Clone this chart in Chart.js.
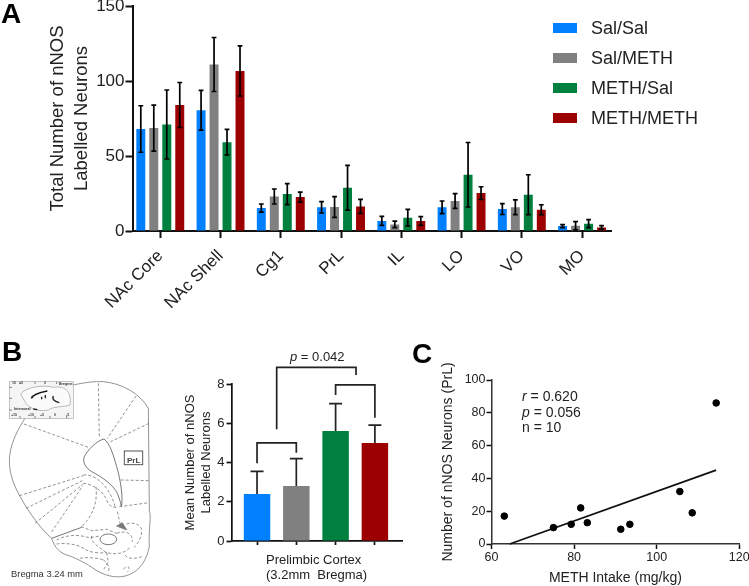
<!DOCTYPE html>
<html><head><meta charset="utf-8">
<script src="https://cdn.jsdelivr.net/npm/chart.js@4"></script>
<style>
html,body{margin:0;padding:0;background:#fff;overflow:hidden;width:749px;height:586px}
body{position:relative;font-family:"Liberation Sans",Arial,sans-serif;color:#222}
canvas{position:absolute}
.box{position:absolute}
.t{position:absolute;white-space:pre;line-height:1}
.panel{font-weight:bold;font-size:28px;color:#000}
.sw{position:absolute;width:24px;height:10px}
</style></head><body>

<div class="box" style="left:0;top:-14px;width:640px;height:344px"><canvas id="a"></canvas></div>
<div class="box" style="left:170px;top:340px;width:250px;height:246px"><canvas id="b"></canvas></div>
<div class="box" style="left:430px;top:340px;width:340px;height:246px"><canvas id="c"></canvas></div>

<svg class="box" style="left:0;top:330px" width="180" height="256" viewBox="0 0 540 768" fill="none" stroke="#777" stroke-width="2.4">
  <path d="M220 165C250 158 285 153 310 155C365 160 420 190 445 235L448 545C455 555 445 600 448 650C440 690 420 722 385 735C360 745 325 742 290 722C260 700 220 680 200 675C180 668 165 655 155 625C115 590 75 530 50 480C30 440 25 400 30 370C35 335 55 295 75 265"/>
  <path d="M312 327C290 332 262 360 252 382C248 398 258 415 275 425C305 440 340 465 352 490C358 505 362 518 364 530C370 505 362 450 350 410C340 375 330 340 312 327Z" stroke="#555"/>
  <g stroke-dasharray="9 6">
    <path d="M295 160L298 322M408 198L322 325M447 280L332 335M72 282L265 352M58 497L250 437M78 535L247 452M105 580L250 462M155 606L248 468"/>
    <path d="M362 450L447 452M358 530L447 518M352 545L360 580"/>
    <path d="M250 435C285 430 330 470 345 530M250 460C275 462 310 480 322 515C330 535 350 530 355 535"/>
    <path d="M288 470C292 510 285 550 245 590"/>
  </g>
  <g transform="translate(135,540)">
    <path d="M20 85L110 52" stroke="#555"/>
    <g stroke-dasharray="9 6">
      <path d="M35 90C55 78 90 72 120 80C135 85 150 80 165 78M35 102C60 98 100 102 120 118C135 128 165 130 185 128"/>
      <path d="M108 50L140 62L185 58L215 70M140 78C135 90 150 105 185 128C215 135 240 130 255 112"/>
      <path d="M245 42C262 36 285 40 290 60C292 80 278 100 268 112M215 70C240 60 265 70 262 95"/>
      <path d="M185 128L190 155L175 180M175 150C190 160 195 175 190 190M240 135C250 150 275 145 290 140M105 145C130 140 165 145 175 150"/>
      <path d="M235 178C248 165 258 170 248 185"/>
    </g>
    <ellipse cx="190" cy="88" rx="25" ry="16" fill="#fff" stroke="#555"/>
    <path d="M215 48L232 38L245 60Z" fill="#777"/>
  </g>
  <rect x="373" y="363" width="55" height="41" stroke="#555" stroke-width="3"/>
  <rect x="28" y="155" width="192" height="110" fill="#f5f5f5" stroke="#aaa" stroke-width="2"/>
  <path d="M62 192C75 172 130 163 160 172C200 165 215 190 210 225C190 232 160 228 145 240C120 245 95 240 78 220Z" stroke="#aaa" fill="#fbfbfb" stroke-width="2.4"/>
  <path d="M94 205C100 192 125 186 142 183" stroke="#111" stroke-width="4.5"/>
  <path d="M160 198C155 208 165 215 178 218M100 237L112 239M104 218V218.1M125 200V208M136 195V205" stroke="#222" stroke-width="4"/>
  <path d="M28 172H36M28 205H36M28 240H36M60 155V162M105 155V162M170 155V162M60 265V258M105 265V258M150 265V258M200 265V258" stroke="#666"/>
</svg>
<div class="t" style="left:127px;top:457px;font-size:8px;font-weight:bold;color:#444">PrL</div>
<div class="t" style="left:11px;top:569px;font-size:9.4px;color:#333">Bregma 3.24 mm</div>
<div class="t" style="left:59px;top:383px;font-size:3.6px;font-weight:bold;color:#333">Bregma</div>
<div class="t" style="left:14px;top:408px;font-size:3.6px;font-weight:bold;color:#333">Interaural</div>
<div class="t" style="left:12px;top:382px;font-size:3.6px;font-weight:bold;color:#444">10</div>
<div class="t" style="left:19px;top:382px;font-size:3.6px;font-weight:bold;color:#444">+5</div>
<div class="t" style="left:44px;top:382px;font-size:3.6px;font-weight:bold;color:#444">0</div>
<div class="t" style="left:11px;top:414px;font-size:3.6px;font-weight:bold;color:#444">+15</div>
<div class="t" style="left:28px;top:414px;font-size:3.6px;font-weight:bold;color:#444">+10</div>
<div class="t" style="left:40px;top:414px;font-size:3.6px;font-weight:bold;color:#444">+5</div>
<div class="t" style="left:54px;top:414px;font-size:3.6px;font-weight:bold;color:#444">0</div>
<div class="t" style="left:66px;top:414px;font-size:3.6px;font-weight:bold;color:#444">-5</div>

<div class="t panel" style="left:1px;top:0px">A</div>
<div class="t panel" style="left:2px;top:338px">B</div>
<div class="t panel" style="left:412px;top:340px">C</div>

<div id="legend"></div>

<div class="t" style="left:290px;top:350px;font-size:13px"><i>p</i> = 0.042</div>
<div class="t" style="left:266px;top:552px;width:94px;font-size:13px;line-height:15px;text-align:center">Prelimbic Cortex
(3.2mm  Bregma)</div>
<div class="t" style="left:522px;top:389px;font-size:14px;line-height:15.5px"><i>r</i> = 0.620
<i>p</i> = 0.056
n = 10</div>

<script>
// ---------- Panel A ----------
const regions = ["NAc Core","NAc Shell","Cg1","PrL","IL","LO","VO","MO"];
const groups  = ["Sal/Sal","Sal/METH","METH/Sal","METH/METH"];
const colours = ["#0080ff","#808080","#00803f","#9c0000"];
const salSal    = [68,80.5,15.3,15.8,6.7,15.8,14.6,3.3];
const salMeth   = [68.6,111,23,16,4.4,20,15.8,3.5];
const methSal   = [71,59.2,24.6,28.8,8.9,37.5,24.2,4.9];
const methMeth  = [84,106.7,22.6,16.4,6.7,25.3,14.2,2.4];
const salSalErr   = [15.5,13.3,2.7,3.8,3,4.2,3.6,1];
const salMethErr  = [15.3,18,5,6.9,2.2,4.9,4.9,2.7];
const methSalErr  = [23,8.5,7,14.9,5.5,21.5,13.3,2.7];
const methMethErr = [15,16.7,3.3,4.7,2.9,4.2,3.3,1.2];
const yTicksA = [0,50,100,150];

// ---------- Panel B ----------
const prlMeans = [2.4,2.8,5.6,5];
const prlErrs  = [1.15,1.4,1.4,0.9];
const yTicksB = [0,2,4,6,8];
// [x start, y start, y top, x end, y end], in data units
const brackets = [
  [0,3.96,5.0,1,4.5],
  [2,7.44,7.96,3,6.28],
  [0.5,5.69,8.85,2.52,8.46]
];

// ---------- Panel C ----------
const methIntake = [63.1,75,79.3,81.6,83.2,91.3,93.5,105.6,108.6,114.4];
const nnosCount  = [17,10,12,22,13,9,12,32,19,86];
const fitX = [64.4,114.4];
const fitY = [0,45];

const INK = "#222";
Chart.defaults.font.family = '"Liberation Sans",Arial,sans-serif';
Chart.defaults.color = INK;
Chart.defaults.animation = false;

const errorBars = {
  id:"errorBars",
  afterDatasetsDraw(chart,args,opts){
    const {ctx} = chart, y = chart.scales.y;
    ctx.save();
    ctx.strokeStyle = opts.color; ctx.lineWidth = opts.width;
    chart.data.datasets.forEach((ds,d)=>{
      if(!ds.err) return;
      chart.getDatasetMeta(d).data.forEach((bar,i)=>{
        const v = ds.data[i].y, e = ds.err[i];
        const top = y.getPixelForValue(v+e);
        const low = opts.both ? y.getPixelForValue(v-e) : y.getPixelForValue(v);
        ctx.beginPath();
        ctx.moveTo(bar.x,top); ctx.lineTo(bar.x,low);
        ctx.moveTo(bar.x-opts.cap,top); ctx.lineTo(bar.x+opts.cap,top);
        if(opts.both){ ctx.moveTo(bar.x-opts.cap,low); ctx.lineTo(bar.x+opts.cap,low); }
        ctx.stroke();
      });
    });
    ctx.restore();
  }
};
const bracketPlugin = {
  id:"bracketLines",
  afterDatasetsDraw(chart,args,opts){
    if(!opts.items) return;
    const {ctx,scales:{x,y}} = chart;
    ctx.save();
    ctx.strokeStyle = INK; ctx.lineWidth = 1.7; ctx.lineJoin="miter";
    opts.items.forEach(([x1,y1,t,x2,y2])=>{
      ctx.beginPath();
      ctx.moveTo(x.getPixelForValue(x1),y.getPixelForValue(y1));
      ctx.lineTo(x.getPixelForValue(x1),y.getPixelForValue(t));
      ctx.lineTo(x.getPixelForValue(x2),y.getPixelForValue(t));
      ctx.lineTo(x.getPixelForValue(x2),y.getPixelForValue(y2));
      ctx.stroke();
    });
    ctx.restore();
  }
};
const points = (vals)=>vals.map((v,i)=>({x:i,y:v}));
const axisGrid = (tick,len)=>({drawOnChartArea:false,drawTicks:true,tickLength:len,tickWidth:tick,tickColor:"#111"});

// Panel A
new Chart(document.getElementById("a"),{
  type:"bar",
  plugins:[errorBars],
  data:{datasets:[
    {label:groups[0],data:points(salSal),err:salSalErr,backgroundColor:colours[0]},
    {label:groups[1],data:points(salMeth),err:salMethErr,backgroundColor:colours[1]},
    {label:groups[2],data:points(methSal),err:methSalErr,backgroundColor:colours[2]},
    {label:groups[3],data:points(methMeth),err:methMethErr,backgroundColor:colours[3]}
  ]},
  options:{
    responsive:true,maintainAspectRatio:false,
    layout:{padding:{top:20,right:29,left:0,bottom:0}},
    datasets:{bar:{categoryPercentage:0.862,barPercentage:0.69}},
    plugins:{legend:{display:false},tooltip:{enabled:false},
      errorBars:{color:"#000",width:1.7,cap:2.4,both:true}},
    scales:{
      x:{type:"linear",offset:false,min:-0.461,max:7.48,
        afterBuildTicks(s){s.ticks=regions.map((_,i)=>({value:i}));},
        afterFit(s){s.height=99;},
        grid:{...axisGrid(2,7),offset:false},
        border:{color:"#111",width:2},
        ticks:{autoSkip:false,minRotation:45,maxRotation:45,padding:8,font:{size:17}},
      },
      y:{min:0,max:150,
        afterBuildTicks(s){s.ticks=yTicksA.map(v=>({value:v}));},
        afterFit(s){s.width=132.5;},
        grid:axisGrid(2,7),
        border:{color:"#111",width:2},
        ticks:{padding:1,font:{size:17}},
        title:{display:true,text:["Total Number of nNOS","Labelled Neurons"],
          font:{size:18.5,lineHeight:24/18.5},padding:{top:46,bottom:0}}}
    }
  }
});
Chart.getChart("a").options.scales.x.ticks.callback = v=>regions[v];
Chart.getChart("a").update();

// Panel B
new Chart(document.getElementById("b"),{
  type:"bar",
  plugins:[errorBars,bracketPlugin],
  data:{datasets:[{data:points(prlMeans),err:prlErrs,backgroundColor:colours}]},
  options:{
    responsive:true,maintainAspectRatio:false,
    layout:{padding:{top:44,right:18,left:0,bottom:0}},
    datasets:{bar:{categoryPercentage:1,barPercentage:0.674}},
    plugins:{legend:{display:false},tooltip:{enabled:false},
      errorBars:{color:INK,width:1.7,cap:6.5,both:false},
      bracketLines:{items:brackets}},
    scales:{
      x:{type:"linear",offset:false,min:-0.65,max:3.69,
        afterBuildTicks(s){s.ticks=prlMeans.map((_,i)=>({value:i}));},
        afterFit(s){s.height=45;},
        grid:{...axisGrid(1.7,4),offset:false},
        border:{color:"#111",width:1.7},
        ticks:{autoSkip:false,maxRotation:0,font:{size:13},callback:()=>""}},
      y:{min:0,max:8,
        afterBuildTicks(s){s.ticks=yTicksB.map(v=>({value:v}));},
        afterFit(s){s.width=61.5;},
        grid:axisGrid(1.7,5),
        border:{color:"#111",width:1.7},
        ticks:{padding:2,font:{size:13}},
        title:{display:true,text:["Mean Number of nNOS","Labelled Neurons"],
          font:{size:13,lineHeight:16/13},padding:{top:12,bottom:0}}}
    }
  }
});

// Panel C
new Chart(document.getElementById("c"),{
  type:"scatter",
  data:{datasets:[
    {data:methIntake.map((x,i)=>({x,y:nnosCount[i]})),backgroundColor:"#000",borderColor:"#000",pointRadius:3.3,showLine:false},
    {type:"line",data:fitX.map((x,i)=>({x,y:fitY[i]})),borderColor:"#111",borderWidth:1.8,pointRadius:0,fill:false,clip:false}
  ]},
  options:{
    responsive:true,maintainAspectRatio:false,
    layout:{padding:{top:40,right:30.7,left:0,bottom:0}},
    plugins:{legend:{display:false},tooltip:{enabled:false}},
    scales:{
      x:{type:"linear",min:60,max:120,
        afterFit(s){s.height=42;},
        grid:axisGrid(1.5,5),
        border:{color:"#333",width:1.5},
        ticks:{stepSize:20,padding:1,maxRotation:0,font:{size:12.5}},
        title:{display:true,text:"METH Intake (mg/kg)",font:{size:14,lineHeight:16/14},padding:{top:0,bottom:0}}},
      y:{min:0,max:100,
        afterFit(s){s.width=61.5;},
        grid:axisGrid(1.5,5),
        border:{color:"#333",width:1.5},
        ticks:{stepSize:20,padding:1,font:{size:12.5}},
        title:{display:true,text:"Number of nNOS Neurons (PrL)",font:{size:14,lineHeight:16/14},padding:{top:10.5,bottom:0}}}
    }
  }
});

// Legend of panel A
const legend = document.getElementById("legend");
groups.forEach((g,i)=>{
  const rowY = 27.5 + i*30.3;
  legend.insertAdjacentHTML("beforeend",
    `<div class="sw" style="left:553px;top:${rowY-5}px;background:${colours[i]}"></div>`+
    `<div class="t" style="left:591px;top:${rowY-9}px;font-size:18px">${g}</div>`);
});
</script>
</body></html>
